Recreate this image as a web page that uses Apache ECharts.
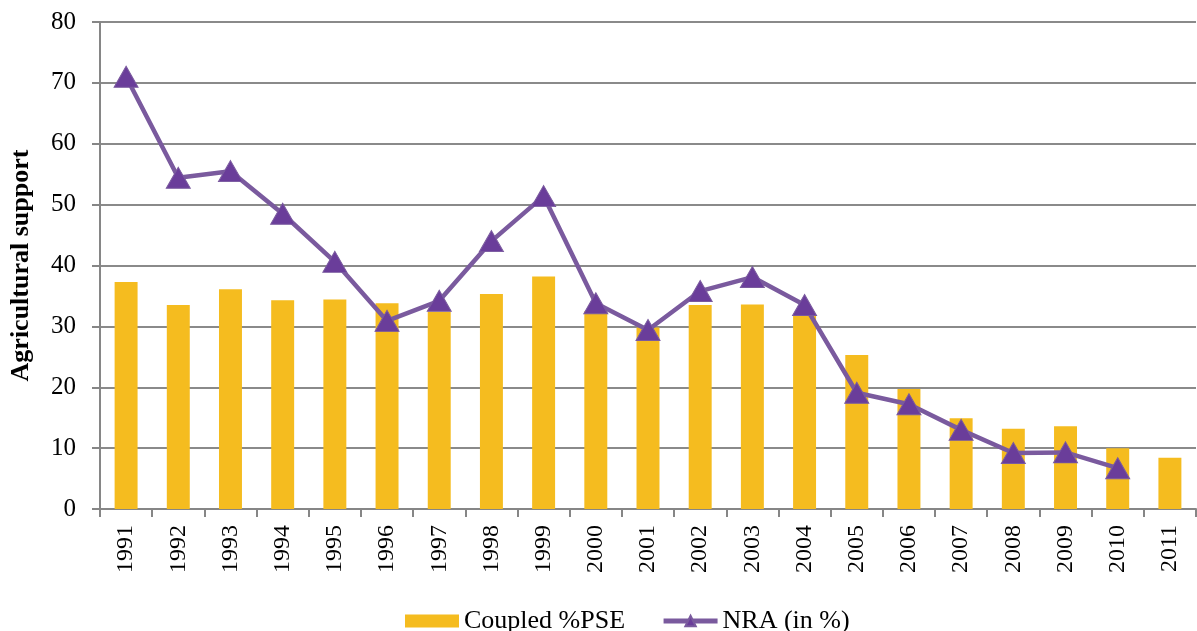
<html>
<head>
<meta charset="utf-8">
<title>Agricultural support</title>
<script src="https://cdn.jsdelivr.net/npm/echarts@6/dist/echarts.min.js"></script>
<style>
html,body{margin:0;padding:0;background:#fff;}
#main{width:1197px;height:631px;}
</style>
</head>
<body>
<div id="main"></div>
<script type="text/javascript">
var years = ['1991','1992','1993','1994','1995','1996','1997','1998','1999','2000','2001',
             '2002','2003','2004','2005','2006','2007','2008','2009','2010','2011'];
// Coupled %PSE (bars)
var pseValues = [37.3, 33.5, 36.1, 34.3, 34.4, 33.8, 32.4, 35.3, 38.2, 32.5, 29.8,
                 33.5, 33.6, 31.9, 25.3, 19.7, 14.9, 13.2, 13.6, 10.0, 8.4];
// NRA (in %) (line), no value for 2011
var nraValues = [71.0, 54.4, 55.5, 48.5, 40.6, 30.9, 34.2, 44.0, 51.4, 33.8, 29.4,
                 35.8, 38.1, 33.5, 19.1, 17.2, 13.0, 9.2, 9.3, 6.7, null];
var yTicks = [0, 80, 10]; // min, max, interval

var chart = echarts.init(document.getElementById('main'));
var font = 'Liberation Serif, Times New Roman, serif';

var option = {
  backgroundColor: '#fff',
  animation: false,
  textStyle: { fontFamily: font },
  grid: { left: 100, right: 1, top: 22, bottom: 122, containLabel: false, outerBoundsMode: 'none' },
  legend: {
    bottom: -8,
    left: 400,
    itemGap: 36,
    itemWidth: 54,
    itemHeight: 13,
    lineStyle: { width: 5 },
    textStyle: { fontFamily: font, fontSize: 26, color: '#000' },
    data: [
      { name: 'Coupled %PSE', icon: 'rect' },
      { name: 'NRA (in %)' }
    ]
  },
  xAxis: {
    type: 'category',
    data: years,
    boundaryGap: true,
    axisLine: { lineStyle: { color: '#868686', width: 2 } },
    axisTick: { show: true, length: 8, lineStyle: { color: '#868686', width: 2 } },
    axisLabel: { rotate: 90, margin: 16, fontSize: 24, color: '#000', fontFamily: font }
  },
  yAxis: {
    type: 'value',
    min: yTicks[0],
    max: yTicks[1],
    interval: yTicks[2],
    name: 'Agricultural support',
    nameLocation: 'middle',
    nameGap: 66,
    nameTextStyle: { fontFamily: font, fontSize: 26, fontWeight: 'bold', color: '#000' },
    axisLine: { show: true, lineStyle: { color: '#868686', width: 2 } },
    axisTick: { show: true, length: 8, lineStyle: { color: '#868686', width: 2 } },
    axisLabel: { margin: 24, fontSize: 25, color: '#000', fontFamily: font },
    splitLine: { lineStyle: { color: '#8a8a8a', width: 2 } }
  },
  series: [
    {
      name: 'Coupled %PSE',
      type: 'bar',
      data: pseValues,
      barWidth: '44%',
      itemStyle: { color: '#f5bc1f' },
      z: 2
    },
    {
      name: 'NRA (in %)',
      type: 'line',
      data: nraValues,
      symbol: 'triangle',
      symbolSize: [24, 21],
      showAllSymbol: true,
      lineStyle: { color: '#7a5a9e', width: 4.5 },
      itemStyle: { color: '#6a3d9a', borderColor: '#7a5a9e', borderWidth: 1 },
      z: 3
    }
  ]
};

chart.setOption(option);
</script>
</body>
</html>
